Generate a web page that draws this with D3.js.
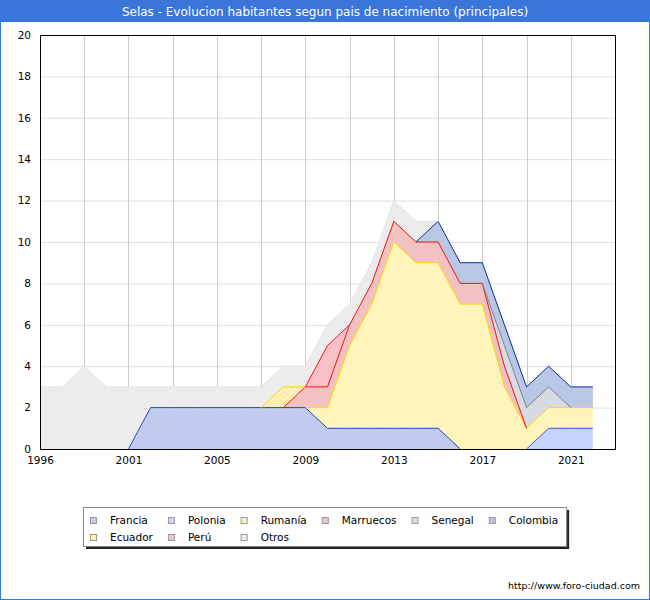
<!DOCTYPE html>
<html>
<head>
<meta charset="utf-8">
<script src="https://cdn.jsdelivr.net/npm/d3@7"></script>
<style>
  body { margin: 0; background: #fff; }
  svg { display: block; font-family: "DejaVu Sans", Verdana, sans-serif; }
</style>
</head>
<body>
<div id="chart"></div>
<script>
// years in the padron series (no 1997)
var years = [1996, 1998, 1999, 2000, 2001, 2002, 2003, 2004, 2005, 2006, 2007, 2008, 2009,
             2010, 2011, 2012, 2013, 2014, 2015, 2016, 2017, 2018, 2019, 2020, 2021, 2022];
var tickYears = [1996, 2001, 2005, 2009, 2013, 2017, 2021];
var yTicks = [0, 2, 4, 6, 8, 10, 12, 14, 16, 18, 20];

var francia   = [0,0,0,0,0,2,2,2,2,2,2,2,2,1,1,1,1,1,1,0,0,0,0,0,0,0];
var polonia   = [0,0,0,0,0,0,0,0,0,0,0,0,0,0,0,0,0,0,0,0,0,0,0,1,1,1];
var rumania   = [0,0,0,0,0,0,0,0,0,0,0,0,0,1,4,6,9,8,8,7,7,3,1,1,1,1];
var marruecos = [0,0,0,0,0,0,0,0,0,0,0,0,1,1,1,1,1,1,1,1,1,1,0,0,0,0];
var senegal   = [0,0,0,0,0,0,0,0,0,0,0,0,0,0,0,0,0,0,0,0,0,1,1,1,0,0];
var colombia  = [0,0,0,0,0,0,0,0,0,0,0,0,0,0,0,0,0,0,1,1,1,1,1,1,1,1];
var ecuador   = [0,0,0,0,0,0,0,0,0,0,0,1,0,0,0,0,0,0,0,0,0,0,0,0,0,0];
var peru      = [0,0,0,0,0,0,0,0,0,0,0,0,0,2,0,0,0,0,0,0,0,0,0,0,0,0];
var otros     = [3,3,4,3,3,1,1,1,1,1,1,1,1,1,1,1,1,1,0,0,0,0,0,0,0,0];

var seriesNames = ["Francia", "Polonia", "Rumanía", "Marruecos", "Senegal", "Colombia", "Ecuador", "Perú", "Otros"];
var seriesValues = [francia, polonia, rumania, marruecos, senegal, colombia, ecuador, peru, otros];

var fills   = ["url(#dotBlue)", "#c6d4ff", "#fff4ba", "#f2c2c2", "#d8dce2", "#b9c6e4", "url(#dotYellow)", "#f9c0c8", "#ececec"];
var swatch  = ["#c0cbef", "#c6d4ff", "#fff4ba", "#f2c2c2", "#d8dce2", "#b9c6e4", "#fff1b0", "#f9c0c8", "#ececec"];
var strokes = ["#2244cc", "#3355ee", "#ffd700", "#ee1111", "#7a8590", "#0a2a9a", "#ffd000", "#ee1122", "#e4e4e4"];

var svgWidth = 650;
var svgHeight = 600;
var plot = {left: 40, right: 615, top: 35, bottom: 449};

var svg = d3.select("#chart")
    .append("svg")
    .attr("width", svgWidth)
    .attr("height", svgHeight);

var defs = svg.append("defs");
function dotPattern(id, bg, dot) {
    var p = defs.append("pattern")
        .attr("id", id)
        .attr("patternUnits", "userSpaceOnUse")
        .attr("width", 6).attr("height", 6);
    p.append("rect").attr("width", 6).attr("height", 6).attr("fill", bg);
    p.append("rect").attr("x", 1).attr("y", 1).attr("width", 1).attr("height", 1).attr("fill", dot);
    p.append("rect").attr("x", 4).attr("y", 4).attr("width", 1).attr("height", 1).attr("fill", dot);
}
dotPattern("dotBlue", "#c0cbef", "#c8d2f2");
dotPattern("dotYellow", "#fff1b0", "#f6c8c8");

// title bar
svg.append("rect")
    .attr("x", 0).attr("y", 0)
    .attr("width", svgWidth).attr("height", 22)
    .attr("fill", "#3a75d9");
svg.append("text")
    .attr("x", svgWidth / 2).attr("y", 16)
    .attr("text-anchor", "middle")
    .attr("fill", "#fff")
    .style("font-size", "12px")
    .text("Selas - Evolucion habitantes segun pais de nacimiento (principales)");

var x = d3.scaleLinear()
    .domain([0, 26])
    .range([plot.left, plot.right]);
var y = d3.scaleLinear()
    .domain([0, 20])
    .range([plot.bottom, plot.top]);

// grid
var grid = svg.append("g");
grid.selectAll("line.h")
    .data(yTicks)
    .enter()
    .append("line")
    .attr("x1", plot.left).attr("x2", plot.right)
    .attr("y1", d => y(d) + 0.5).attr("y2", d => y(d) + 0.5)
    .attr("stroke", "#dedede");
grid.selectAll("line.v")
    .data(d3.range(0, 27, 2))
    .enter()
    .append("line")
    .attr("x1", d => Math.round(x(d)) + 0.5).attr("x2", d => Math.round(x(d)) + 0.5)
    .attr("y1", plot.top).attr("y2", plot.bottom)
    .attr("stroke", "#cccccc");

// stacked areas
var rows = years.map(function(yr, i) {
    var r = {};
    seriesNames.forEach(function(n, k) { r[n] = seriesValues[k][i]; });
    return r;
});
var stacked = d3.stack().keys(seriesNames)(rows);

var area = d3.area()
    .x((d, i) => x(i))
    .y0(d => y(d[0]))
    .y1(d => y(d[1]));

svg.append("g").selectAll("path")
    .data(stacked)
    .enter()
    .append("path")
    .attr("d", area)
    .attr("fill", (d, k) => fills[k]);

// top border of each layer, only where the layer is present
svg.append("g").selectAll("path")
    .data(stacked)
    .enter()
    .append("path")
    .attr("d", function(s, k) {
        var v = seriesValues[k];
        var line = d3.line()
            .defined((d, i) => v[i] > 0 || v[i - 1] > 0 || v[i + 1] > 0)
            .x((d, i) => x(i))
            .y(d => y(d[1]));
        return line(s);
    })
    .attr("fill", "none")
    .attr("stroke", (d, k) => strokes[k])
    .attr("stroke-width", 1);

// frame
svg.append("rect")
    .attr("x", plot.left + 0.5).attr("y", plot.top + 0.5)
    .attr("width", plot.right - plot.left).attr("height", plot.bottom - plot.top)
    .attr("fill", "none")
    .attr("stroke", "#000");

// axes
var bottomAxis = d3.axisBottom(x)
    .tickValues(tickYears.map(t => years.indexOf(t)))
    .tickFormat(i => years[i])
    .tickSize(0)
    .tickPadding(8);
var leftAxis = d3.axisLeft(y)
    .tickValues(yTicks)
    .tickSize(0)
    .tickPadding(9);

var xAxis = svg.append("g")
    .attr("transform", `translate(0,${plot.bottom})`)
    .call(bottomAxis);
var yAxis = svg.append("g")
    .attr("transform", `translate(${plot.left},0)`)
    .call(leftAxis);
[xAxis, yAxis].forEach(function(a) {
    a.select(".domain").remove();
    a.selectAll("text")
        .attr("fill", "#000")
        .style("font-family", "DejaVu Sans, Verdana, sans-serif")
        .style("font-size", "10.5px");
});

// legend
var legend = svg.append("g");
var items = legend.selectAll("g.item")
    .data(seriesNames)
    .enter()
    .append("g");
items.append("text")
    .attr("x", 20)
    .attr("y", 4)
    .style("font-size", "10.5px")
    .attr("fill", "#000")
    .text(d => d);

var perRow = 6;
var widths = [];
items.select("text").each(function(d, i) {
    var c = i % perRow;
    widths[c] = Math.max(widths[c] || 0, this.getComputedTextLength());
});
var colX = [0];
for (var c = 1; c < perRow; c++) colX[c] = colX[c - 1] + 20 + widths[c - 1] + 15;
var contentW = colX[perRow - 1] + 20 + widths[perRow - 1];
var boxW = contentW + 15;
var boxX = Math.round(svgWidth / 2 - boxW / 2);
var boxY = 507, boxH = 39;

legend.insert("rect", "g")
    .attr("x", boxX + 3).attr("y", boxY + 3)
    .attr("width", boxW).attr("height", boxH)
    .attr("fill", "#222");
legend.insert("rect", "g")
    .attr("x", boxX + 0.5).attr("y", boxY + 0.5)
    .attr("width", boxW).attr("height", boxH)
    .attr("fill", "#fff")
    .attr("stroke", "#888");

items.attr("transform", (d, i) =>
    `translate(${boxX + 7 + colX[i % perRow]},${boxY + 13 + Math.floor(i / perRow) * 17})`);
items.insert("rect", "text")
    .attr("x", 0.5).attr("y", -2.5)
    .attr("width", 6).attr("height", 6)
    .attr("fill", (d, i) => swatch[i])
    .attr("stroke", "#999");

// footer
svg.append("text")
    .attr("x", 640).attr("y", 589)
    .attr("text-anchor", "end")
    .style("font-size", "9.5px")
    .attr("fill", "#000")
    .text("http://www.foro-ciudad.com");

// outer border
svg.append("rect")
    .attr("x", 0.5).attr("y", 0.5)
    .attr("width", svgWidth - 1).attr("height", svgHeight - 1)
    .attr("fill", "none")
    .attr("stroke", "#3a75d9");
</script>
</body>
</html>
